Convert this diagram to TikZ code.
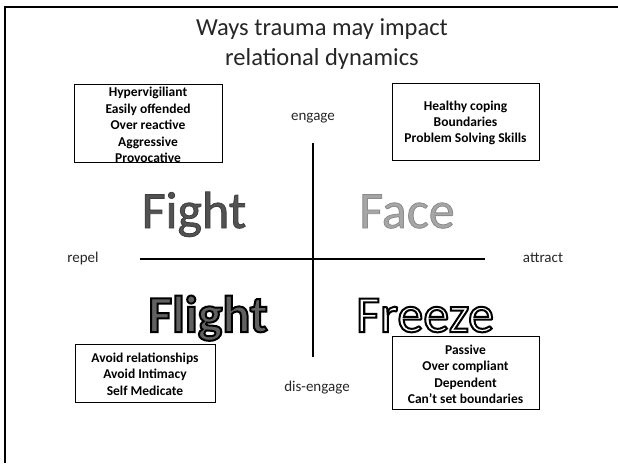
\documentclass[tikz,border=0pt]{standalone}
\usepackage{fontspec}
\setmainfont{Carlito}

% outlined lettering: fill colour, outline width (pt), outline grey level
\newcommand\outlineword[4]{{\color{#1}\special{pdf:code 2 Tr #2 w #3 G}#4\special{pdf:code 0 Tr}}}

\tikzset{
  listbox/.style={draw, line width=0.8pt, inner sep=0pt},
  listtext/.style={font=\fontsize{13.5}{16.4}\selectfont\bfseries, align=center, inner sep=0pt},
  axislabel/.style={font=\fontsize{15}{15}\selectfont, text=black!85, inner sep=0pt},
  bigword/.style={anchor=base, inner sep=0pt, font=\fontsize{52}{52}\selectfont}
}

\begin{document}
\begin{tikzpicture}[x=1pt, y=-1pt]
			\useasboundingbox (0,0) rectangle (618,463);

			% slide edge
			\coordinate (edgeR) at (618,7);
			\coordinate (edgeC) at (5,7);
			\coordinate (edgeB) at (5,463);
			\draw[line width=2.5pt] (edgeR) -- (edgeC) -- (edgeB);

			\node[font=\fontsize{24.5}{30}\selectfont, text=black!85, align=center, inner sep=0pt] (title) at (322,44) {Ways trauma may impact\\relational dynamics};

			% the two axes
			\node[axislabel] (engage) at (313,118) {engage};
			\node[axislabel] (disengage) at (317,388) {dis-engage};
			\node[axislabel] (repel) at (83,258) {repel};
			\node[axislabel] (attract) at (543,258) {attract};

			\coordinate (up) at (313,143);
			\coordinate (down) at (313,357);
			\coordinate (left) at (140,259);
			\coordinate (right) at (485,259);
			\draw[line width=2pt] (up) -- (down);
			\draw[line width=2pt] (left) -- (right);

			% the four responses
			\node[bigword] (fight) at (194,228) {\outlineword{black!68}{0.8}{0.25}{Fight}};
			\node[bigword] (face) at (407,228) {\outlineword{black!35}{0.8}{0.55}{Face}};
			\node[bigword, font=\fontsize{52}{52}\selectfont\bfseries] (flight) at (208,332) {\outlineword{black!62}{2}{0}{Flight}};
			\node[bigword] (freeze) at (425,332) {\outlineword{white}{2}{0}{Freeze}};

			% boxes with the traits
			\node[listbox, minimum width=148, minimum height=78] (fightbox) at (148,123) {};
			\node[listtext] (fightlist) at (148,125) {Hypervigiliant\\Easily offended\\Over reactive\\Aggressive\\Provocative};

			\node[listbox, minimum width=147, minimum height=77] (facebox) at (465.5,121.5) {};
			\node[listtext] (facelist) at (465.5,123) {Healthy coping\\Boundaries\\Problem Solving Skills};

			\node[listbox, minimum width=140, minimum height=58] (flightbox) at (145,373) {};
			\node[listtext] (flightlist) at (145,374) {Avoid relationships\\Avoid Intimacy\\Self Medicate};

			\node[listbox, minimum width=147, minimum height=73] (freezebox) at (465.5,372.5) {};
			\node[listtext] (freezelist) at (465.5,374.5) {Passive\\Over compliant\\Dependent\\Can’t set boundaries};
\end{tikzpicture}
\end{document}
